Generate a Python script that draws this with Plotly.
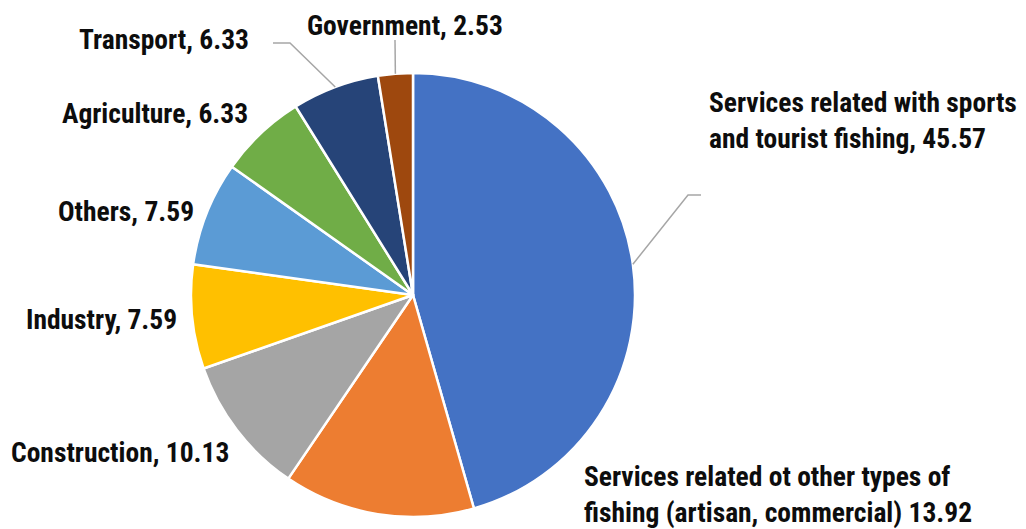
import math
import plotly.graph_objects as go

# Employment by sector (%)
sectors = [
    "Services related with sports<br>and tourist fishing",
    "Services related ot other types of<br>fishing (artisan, commercial)",
    "Construction",
    "Industry",
    "Others",
    "Agriculture",
    "Transport",
    "Government",
]
shares = [45.57, 13.92, 10.13, 7.59, 7.59, 6.33, 6.33, 2.53]
separators = [", ", " ", ", ", ", ", ", ", ", ", ", ", ", "]
colors = ["#4472C4", "#ED7D31", "#A5A5A5", "#FFC000",
          "#5B9BD5", "#70AD47", "#264478", "#9E480E"]

W, H = 1026, 529
CX, CY, R = 413, 295, 222  # pie centre and radius in pixels


def px(x, y):
    return x / W, 1 - y / H


fig = go.Figure(go.Pie(
    labels=[s.replace("<br>", " ") for s in sectors],
    values=shares,
    sort=False,
    direction="clockwise",
    rotation=0,
    marker=dict(colors=colors, line=dict(color="white", width=2.5)),
    textinfo="none",
    hoverinfo="label+value",
    domain=dict(x=[(CX - R) / W, (CX + R) / W], y=[(H - CY - R) / H, (H - CY + R) / H]),
    showlegend=False,
))

# label placement: (x, y, xanchor) in pixels
label_pos = [
    (707, 121, "left"),
    (582, 494, "left"),
    (231, 452, "right"),
    (179, 319, "right"),
    (196, 211, "right"),
    (250, 113, "right"),
    (251, 39, "right"),
    (405, 25, "center"),
]

font = dict(family="Roboto Condensed, Roboto, sans-serif", size=27.5, color="#0d0d0d")
for name, val, sep, (x, y, xa) in zip(sectors, shares, separators, label_pos):
    ax, ay = px(x, y)
    fig.add_annotation(
        x=ax, y=ay, xref="paper", yref="paper", xanchor=xa, yanchor="middle",
        text=f"<b>{name}{sep}{val:.2f}</b>", showarrow=False, align="left", font=font,
    )

# leader lines from the slice mid-angle on the rim to the label
total = sum(shares)
mid_angles = []
acc = 0.0
for v in shares:
    mid_angles.append((acc + v / 2) / total * 2 * math.pi)
    acc += v

leaders = {0: [(688, 195), (701, 195)], 6: [(290, 43), (273, 43)], 7: [(395, 40)]}
for i, pts in leaders.items():
    a = mid_angles[i]
    sx, sy = CX + R * math.sin(a), CY - R * math.cos(a)
    path_pts = [(sx, sy)] + pts
    path = "M " + " L ".join(f"{px(x, y)[0]},{px(x, y)[1]}" for x, y in path_pts)
    fig.add_shape(type="path", path=path, xref="paper", yref="paper",
                  line=dict(color="#A6A6A6", width=1.5))

fig.update_layout(
    width=W, height=H,
    margin=dict(l=0, r=0, t=0, b=0),
    paper_bgcolor="white",
    plot_bgcolor="white",
)

fig.write_html("out.html")
